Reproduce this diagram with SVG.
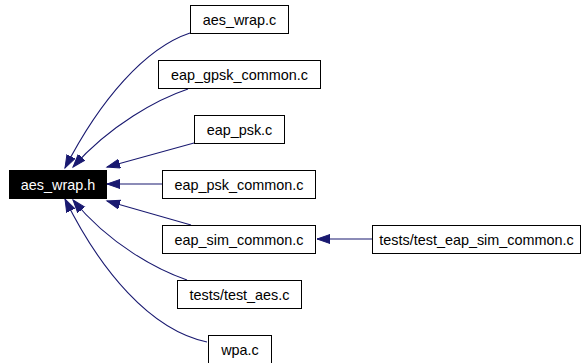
<svg xmlns="http://www.w3.org/2000/svg" width="582" height="363" viewBox="0 0 582 363">
  <style>
    .box { fill: #ffffff; stroke: #000000; stroke-width: 1; }
    .root { fill: #000000; stroke: #000000; stroke-width: 1; }
    .lbl { font-family: "Liberation Sans", Arial, sans-serif; font-size: 14.4px; fill: #000000; text-anchor: middle; }
    .lbl-inv { fill: #ffffff; }
    .edge { fill: none; stroke: #191970; stroke-width: 1.1; }
  </style>
  <defs>
    <marker id="arrow" markerUnits="userSpaceOnUse" markerWidth="15" markerHeight="12" refX="13" refY="5" orient="auto">
      <path d="M0,0.5 L13,5 L0,9.5 Z" fill="#191970" stroke="#191970" stroke-width="1"/>
    </marker>
  </defs>
  <rect width="582" height="363" fill="#ffffff"/>

  <!-- include edges, drawn from each includer towards the header -->
  <g id="connectors">
    <path class="edge" marker-end="url(#arrow)" d="M190,33 C145,48 100,100 65,168"/>
    <path class="edge" marker-end="url(#arrow)" d="M188,89 C158,99 110,125 73,167"/>
    <path class="edge" marker-end="url(#arrow)" d="M194,143 L107,167"/>
    <path class="edge" marker-end="url(#arrow)" d="M162,184 L107,184"/>
    <path class="edge" marker-end="url(#arrow)" d="M191,225 L107,201"/>
    <path class="edge" marker-end="url(#arrow)" d="M187,280 C158,270 110,245 73,200"/>
    <path class="edge" marker-end="url(#arrow)" d="M207,342 C150,330 100,270 65,199"/>
    <path class="edge" marker-end="url(#arrow)" d="M372,239 L317,239"/>
  </g>

  <g id="node-aes_wrap_h">
    <rect class="root" x="9.5" y="170.5" width="97" height="28"/>
    <text class="lbl lbl-inv" x="58" y="190">aes_wrap.h</text>
  </g>
  <g id="node-aes_wrap_c">
    <rect class="box" x="190.5" y="5.5" width="98" height="28"/>
    <text class="lbl" x="239.5" y="24.5">aes_wrap.c</text>
  </g>
  <g id="node-eap_gpsk_common_c">
    <rect class="box" x="158.5" y="60.5" width="162" height="28"/>
    <text class="lbl" x="239.5" y="79.5">eap_gpsk_common.c</text>
  </g>
  <g id="node-eap_psk_c">
    <rect class="box" x="194.5" y="115.5" width="90" height="28"/>
    <text class="lbl" x="239.5" y="134.5">eap_psk.c</text>
  </g>
  <g id="node-eap_psk_common_c">
    <rect class="box" x="162.5" y="170.5" width="153" height="28"/>
    <text class="lbl" x="239" y="189.5">eap_psk_common.c</text>
  </g>
  <g id="node-eap_sim_common_c">
    <rect class="box" x="162.5" y="225.5" width="153" height="28"/>
    <text class="lbl" x="239" y="244.5">eap_sim_common.c</text>
  </g>
  <g id="node-test_eap_sim_common_c">
    <rect class="box" x="372.5" y="225.5" width="208" height="28"/>
    <text class="lbl" x="476.5" y="244.5">tests/test_eap_sim_common.c</text>
  </g>
  <g id="node-test_aes_c">
    <rect class="box" x="177.5" y="280.5" width="124" height="28"/>
    <text class="lbl" x="239.5" y="299.5">tests/test_aes.c</text>
  </g>
  <g id="node-wpa_c">
    <rect class="box" x="208.5" y="335.5" width="63" height="28"/>
    <text class="lbl" x="240" y="354.5">wpa.c</text>
  </g>
</svg>
